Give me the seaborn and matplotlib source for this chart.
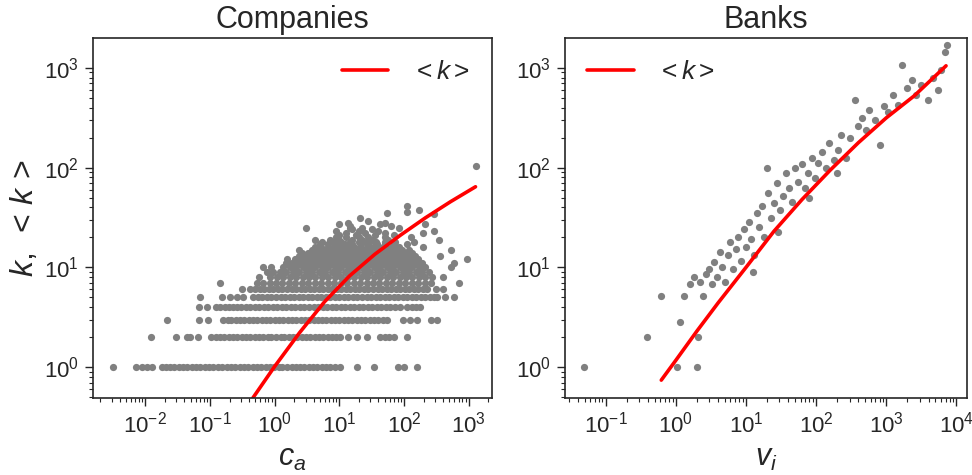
import numpy as np
import pandas as pd
import matplotlib
matplotlib.use("Agg")
import matplotlib.pyplot as plt
import matplotlib.ticker as mticker
import seaborn as sns

# ---------------------------------------------------------------------------
# Companies: degree k of each company against its capital c_a (log10 c_a),
# grouped by integer degree.
# ---------------------------------------------------------------------------
ca_k1 = [-2.50, -2.14, -2.06, -1.98, -1.89, -1.75, -1.68, -1.62, -1.55, -1.48, -1.42,
         -1.35, -1.28, -1.21, -1.15, -1.08, -1.01, -0.95, -0.88, -0.81, -0.74, -0.68,
         -0.61, -0.54, -0.48, -0.41, -0.34, -0.28, -0.21, -0.14, -0.08, -0.01, 0.06,
         0.12, 0.19, 0.26, 0.33, 0.39, 0.46, 0.53, 0.59, 0.66, 0.73, 0.80, 0.86, 0.93,
         1.01, 1.27, 1.54, 1.90, 2.00, 2.20]
ca_k2 = [-1.92, -1.53, -1.36, -1.31, -1.18, -0.98, -0.91, -0.85, -0.78, -0.71, -0.65,
         -0.58, -0.51, -0.45, -0.38, -0.31, -0.25, -0.18, -0.11, -0.05, 0.02, 0.09,
         0.15, 0.22, 0.29, 0.35, 0.42, 0.49, 0.55, 0.62, 0.69, 0.75, 0.82, 0.89, 0.95,
         1.01, 1.14, 1.28, 1.42, 1.63, 1.70, 1.77, 1.84, 2.04]
ca_k3 = [-1.67, -1.17, -1.03, -0.80, -0.73, -0.67, -0.60, -0.53, -0.47, -0.40, -0.33,
         -0.27, -0.20, -0.13, -0.07, 0.00, 0.07, 0.13, 0.20, 0.27, 0.33, 0.40, 0.47,
         0.53, 0.60, 0.67, 0.73, 0.80, 0.87, 0.93, 1.00, 1.07, 1.13, 1.20, 1.27, 1.33,
         1.40, 1.47, 1.53, 1.60, 1.67, 1.74, 1.99, 2.09, 2.20, 2.41, 2.51]
ca_k4 = [-1.17, -1.05, -0.91, -0.84, -0.77, -0.70, -0.64, -0.59, -0.52, -0.45, -0.38,
         -0.31, -0.24, -0.17, -0.10, -0.03, 0.04, 0.11, 0.18, 0.25, 0.32, 0.39, 0.46,
         0.53, 0.60, 0.67, 0.74, 0.81, 0.88, 0.95, 1.02, 1.09, 1.16, 1.23, 1.30, 1.37,
         1.44, 1.51, 1.58, 1.65, 1.72, 1.79, 1.86, 1.94, 2.05, 2.12, 2.19, 2.25]
ca_k5 = [-1.16, -0.81, -0.69, -0.59, -0.49, -0.33, -0.26, -0.19, -0.12, -0.05, 0.02,
         0.09, 0.16, 0.23, 0.30, 0.37, 0.44, 0.51, 0.58, 0.65, 0.72, 0.79, 0.86, 0.93,
         1.00, 1.07, 1.14, 1.21, 1.28, 1.35, 1.42, 1.49, 1.56, 1.63, 1.70, 1.77, 1.84,
         1.91, 1.98, 2.05, 2.12, 2.19, 2.26, 2.33, 2.40, 2.47, 2.51, 2.64, 2.77]
ca_k6 = [-0.51, -0.38, -0.31, -0.23, -0.16, -0.09, -0.02, 0.05, 0.12, 0.19, 0.26, 0.33,
         0.40, 0.47, 0.54, 0.61, 0.68, 0.75, 0.82, 0.89, 0.96, 1.03, 1.10, 1.17, 1.24,
         1.31, 1.38, 1.45, 1.52, 1.59, 1.66, 1.73, 1.80, 1.87, 1.94, 2.01, 2.08, 2.15,
         2.22, 2.29, 2.36, 2.49, 2.61]
ca_k7 = [-0.85, -0.28, -0.18, -0.08, 0.02, 0.12, 0.22, 0.32, 0.42, 0.52, 0.62, 0.72,
         0.82, 0.92, 1.02, 1.12, 1.22, 1.32, 1.42, 1.52, 1.62, 1.72, 1.82, 1.92, 2.02,
         2.12, 2.22, 2.32, 2.42, 2.85]
ca_k8 = [-0.25, -0.07, 0.03, 0.13, 0.23, 0.33, 0.43, 0.53, 0.63, 0.73, 0.83, 0.93,
         1.03, 1.13, 1.23, 1.33, 1.43, 1.53, 1.63, 1.73, 1.83, 1.93, 2.03, 2.13, 2.23,
         2.33, 2.43, 2.61]
ca_k9 = [-0.12, -0.02, 0.08, 0.18, 0.28, 0.38, 0.48, 0.58, 0.68, 0.78, 0.88, 0.98,
         1.08, 1.18, 1.28, 1.38, 1.48, 1.58, 1.68, 1.78, 1.88, 1.98, 2.08, 2.18, 2.28,
         2.38]
ca_k10 = [-0.18, -0.05, 0.13, 0.23, 0.33, 0.43, 0.53, 0.63, 0.73, 0.83, 0.93, 1.03,
          1.13, 1.23, 1.33, 1.43, 1.53, 1.63, 1.73, 1.83, 1.93, 2.03, 2.13, 2.23, 2.33,
          2.72]
ca_k11 = [0.17, 0.27, 0.37, 0.47, 0.57, 0.67, 0.77, 0.87, 0.97, 1.07, 1.17, 1.27, 1.37,
          1.47, 1.57, 1.67, 1.77, 1.87, 1.97, 2.07, 2.17, 2.27, 2.77]
ca_k12 = [0.19, 0.32, 0.42, 0.52, 0.62, 0.72, 0.82, 0.92, 1.02, 1.12, 1.22, 1.32, 1.42,
          1.52, 1.62, 1.72, 1.82, 1.92, 2.02, 2.12, 2.22, 2.98]
ca_k13 = [0.37, 0.47, 0.57, 0.67, 0.77, 0.87, 0.97, 1.07, 1.17, 1.27, 1.37, 1.47, 1.57,
          1.67, 1.77, 1.87, 1.97, 2.07, 2.17, 2.55]
ca_k14 = [0.42, 0.52, 0.62, 0.72, 0.82, 0.92, 1.02, 1.12, 1.22, 1.32, 1.42, 1.52, 1.62,
          1.72, 1.82, 1.92, 2.02, 2.12]
ca_k15 = [0.37, 0.57, 0.67, 0.77, 0.87, 0.97, 1.07, 1.17, 1.27, 1.37, 1.47, 1.57, 1.67,
          1.77, 1.87, 1.97, 2.07, 2.72]
ca_k16 = [0.62, 0.72, 0.82, 0.92, 1.02, 1.12, 1.22, 1.32, 1.42, 1.52, 1.62, 1.72, 1.82,
          1.92, 2.30]
ca_k17 = [0.70, 0.83, 0.95, 1.08, 1.20, 1.33, 1.45, 1.58, 1.70, 1.85, 2.05]
ca_k18 = [0.73, 0.90, 1.03, 1.16, 1.30, 1.42, 1.56, 1.70, 1.86, 2.15]
ca_k19 = [0.62, 0.85, 1.00, 1.20, 1.35, 1.50, 1.75, 2.54]
ca_k20 = [0.95, 1.10, 1.30, 1.45, 1.70, 2.10]
ca_k21 = [1.00, 1.25, 1.55, 1.85]
ca_k22 = [1.10, 1.40, 1.70, 2.30]
ca_k23 = [0.95, 1.30, 1.60, 2.46]
ca_k24 = [1.20, 1.50]
ca_k25 = [0.49, 1.17, 1.35, 1.92]
ca_k26 = [1.17, 1.80]
ca_k27 = [0.99, 1.63, 2.33]
ca_k28 = [1.14, 1.71]
ca_k29 = [1.45]
ca_k31 = [1.32]
ca_k34 = [2.46]
ca_k35 = [1.74]
ca_k36 = [2.05]
ca_k38 = [2.23]
ca_k41 = [2.04]
ca_k105 = [3.12]

company_rows = [
    (1, ca_k1), (2, ca_k2), (3, ca_k3), (4, ca_k4), (5, ca_k5), (6, ca_k6),
    (7, ca_k7), (8, ca_k8), (9, ca_k9), (10, ca_k10), (11, ca_k11), (12, ca_k12),
    (13, ca_k13), (14, ca_k14), (15, ca_k15), (16, ca_k16), (17, ca_k17),
    (18, ca_k18), (19, ca_k19), (20, ca_k20), (21, ca_k21), (22, ca_k22),
    (23, ca_k23), (24, ca_k24), (25, ca_k25), (26, ca_k26), (27, ca_k27),
    (28, ca_k28), (29, ca_k29), (31, ca_k31), (34, ca_k34), (35, ca_k35),
    (36, ca_k36), (38, ca_k38), (41, ca_k41), (105, ca_k105),
]

# Mean degree <k> of companies as a function of c_a
companies_avg_ca = [0.461, 0.989, 2.42, 5.90, 14.4, 35.2, 87.7, 214.0, 522.0, 1274.0]
companies_avg_k = [0.492, 1.007, 2.21, 4.52, 8.22, 13.5, 21.0, 31.4, 45.5, 64.3]

# ---------------------------------------------------------------------------
# Banks: degree k of each bank against its volume v_i (log10 values)
# ---------------------------------------------------------------------------
banks_log_v = [-1.31, -0.41, -0.21, 0.02, 0.30, 0.31, 0.06, 0.12, 0.20, 0.26, 0.34,
               0.39, 0.43, 0.47, 0.51, 0.54, 0.59, 0.63, 0.66, 0.70, 0.74, 0.77, 0.81,
               0.86, 0.88, 0.93, 0.97, 1.00, 1.04, 1.07, 1.11, 1.16, 1.19, 1.23, 1.25,
               1.30, 1.32, 1.36, 1.40, 1.44, 1.48, 1.53, 1.57, 1.61, 1.65, 1.70, 1.74,
               1.80, 1.84, 1.88, 1.94, 1.98, 2.02, 2.08, 2.14, 2.19, 2.25, 2.31, 2.36,
               2.42, 2.48, 2.55, 2.59, 2.65, 2.71, 2.76, 2.84, 2.91, 2.96, 3.02, 3.09,
               3.16, 3.23, 3.29, 3.36, 3.43, 3.50, 3.59, 3.66, 3.73, 3.83, 3.86, 3.78,
               1.10, 1.45, 1.90, 2.30]
banks_log_k = [0.00, 0.30, 0.71, 0.00, 0.00, 0.30, 0.45, 0.71, 0.83, 0.90, 0.85,
               0.71, 0.93, 0.98, 0.83, 1.05, 0.90, 1.15, 1.00, 0.85, 1.12, 1.25, 0.98,
               1.18, 1.30, 1.06, 1.38, 1.20, 1.45, 1.28, 1.12, 1.55, 1.40, 1.62, 1.30,
               2.00, 1.75, 1.50, 1.65, 1.85, 1.58, 1.72, 1.95, 1.80, 1.66, 2.00, 1.86,
               2.04, 1.80, 1.95, 2.10, 1.90, 2.05, 2.16, 2.00, 2.25, 2.08, 2.18, 2.33,
               2.10, 2.30, 2.68, 2.42, 2.50, 2.38, 2.58, 2.48, 2.23, 2.62, 2.56, 2.73,
               2.63, 3.03, 2.80, 2.88, 2.73, 2.83, 2.68, 2.90, 2.78, 3.16, 3.23, 2.98,
               0.95, 1.35, 1.70, 1.95]

# Mean degree <k> of banks as a function of v_i
banks_avg_v = [0.62, 1.0, 2.0, 4.0, 10.0, 25.0, 63.0, 160.0, 400.0, 1000.0, 2500.0, 7100.0]
banks_avg_k = [0.74, 1.17, 2.3, 4.4, 10.0, 23.0, 48.0, 95.0, 178.0, 316.0, 525.0, 1050.0]

# Decades that carry a tick label on each axis
companies_xticks = [1e-2, 1e-1, 1e0, 1e1, 1e2, 1e3]
banks_xticks = [1e-1, 1e0, 1e1, 1e2, 1e3, 1e4]
k_yticks = [1e0, 1e1, 1e2, 1e3]

# ---------------------------------------------------------------------------
companies = pd.DataFrame(
    [(10 ** c, k) for k, row in company_rows for c in row], columns=["c_a", "k"]
)
banks = pd.DataFrame({"v_i": 10 ** np.array(banks_log_v), "k": 10 ** np.array(banks_log_k)})
companies_avg = pd.DataFrame({"c_a": companies_avg_ca, "k": companies_avg_k})
banks_avg = pd.DataFrame({"v_i": banks_avg_v, "k": banks_avg_k})

sns.set_style("ticks")
plt.rcParams["font.family"] = ["Liberation Sans", "DejaVu Sans"]
plt.rcParams["mathtext.fontset"] = "custom"
plt.rcParams["mathtext.rm"] = "Liberation Sans"
plt.rcParams["mathtext.it"] = "Liberation Sans:italic"
plt.rcParams["mathtext.bf"] = "Liberation Sans:bold"

W, H = 972, 475
fig = plt.figure(figsize=(W / 100, H / 100), dpi=100)
ax1 = fig.add_axes([93 / W, 1 - 398 / H, (492 - 93) / W, (398 - 38) / H])
ax2 = fig.add_axes([565 / W, 1 - 398 / H, (967 - 565) / W, (398 - 38) / H])

point_kw = dict(color="gray", s=27, linewidth=0, alpha=1.0)
line_kw = dict(color="red", linewidth=2.6, sort=False, estimator=None)

sns.scatterplot(data=companies, x="c_a", y="k", ax=ax1, **point_kw)
sns.lineplot(data=companies_avg, x="c_a", y="k", ax=ax1, label="$<k>$", **line_kw)
sns.scatterplot(data=banks, x="v_i", y="k", ax=ax2, **point_kw)
sns.lineplot(data=banks_avg, x="v_i", y="k", ax=ax2, label="$<k>$", **line_kw)

for ax, title, xlabel, xlim, xticks in [
    (ax1, "Companies", "$c_a$", (10 ** -2.81, 10 ** 3.36), companies_xticks),
    (ax2, "Banks", "$v_i$", (10 ** -1.58, 10 ** 4.15), banks_xticks),
]:
    ax.set_xscale("log")
    ax.set_yscale("log")
    ax.set_xticks(xticks)
    ax.set_yticks(k_yticks)
    for axis in (ax.xaxis, ax.yaxis):
        axis.set_major_formatter(mticker.LogFormatterSciNotation(base=10))
        axis.set_minor_locator(mticker.LogLocator(base=10, subs=np.arange(2, 10), numticks=300))
        axis.set_minor_formatter(mticker.NullFormatter())
    ax.set_xlim(*xlim)
    ax.set_ylim(10 ** -0.31, 10 ** 3.30)
    ax.set_title(title, fontsize=22, pad=7)
    ax.set_xlabel(xlabel, fontsize=22, labelpad=4)
    ax.tick_params(which="major", labelsize=16, length=6, width=1, pad=4)
    ax.tick_params(which="minor", length=3, width=0.8)
    for sp in ax.spines.values():
        sp.set_linewidth(1.2)

ax1.set_ylabel(r"$k,\ <\,k\,>$", fontsize=23, labelpad=3)
ax2.set_ylabel("")

legend_kw = dict(frameon=False, fontsize=19, handlelength=1.75, handletextpad=0.9,
                 borderaxespad=0.45)
ax1.legend(loc="upper right", **legend_kw)
ax2.legend(loc="upper left", **legend_kw)

fig.savefig("out.png", dpi=100)
